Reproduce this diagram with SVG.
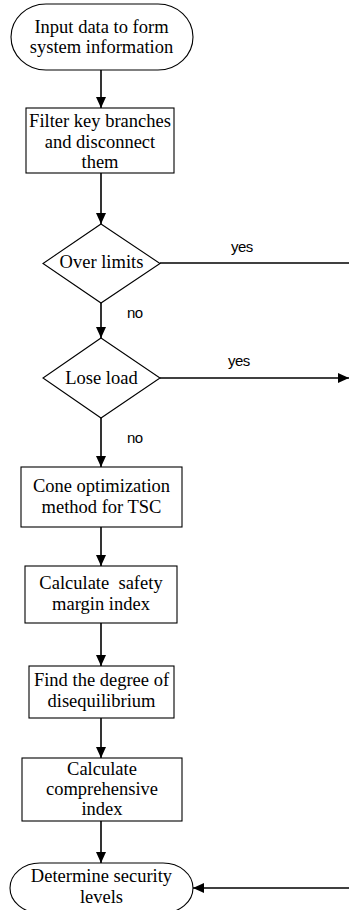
<svg xmlns="http://www.w3.org/2000/svg" width="349" height="910" viewBox="0 0 349 910">
<style>
.shape{fill:#fff;stroke:#000;stroke-width:1.1}
.t{font-family:"Liberation Serif","Times New Roman",serif;font-size:18.5px;text-anchor:middle;fill:#000}
.lbl{font-family:"Liberation Sans",Arial,sans-serif;font-size:15px;letter-spacing:-0.6px;fill:#000}
.c{fill:none;stroke:#000;stroke-width:1.6}
</style>
<defs>
<marker id="ah" markerUnits="userSpaceOnUse" markerWidth="11" markerHeight="10" refX="11" refY="5" orient="auto">
<path d="M0,0 L11,5 L0,10 z" fill="#000"/>
</marker>
</defs>
<rect width="349" height="910" fill="#fff"/>
<g id="connectors">
<line class="c" x1="101" y1="70" x2="101" y2="108" marker-end="url(#ah)"/>
<line class="c" x1="101" y1="173" x2="101" y2="224" marker-end="url(#ah)"/>
<line class="c" x1="101" y1="303" x2="101" y2="338" marker-end="url(#ah)"/>
<line class="c" x1="101" y1="418" x2="101" y2="467" marker-end="url(#ah)"/>
<line class="c" x1="101" y1="527" x2="101" y2="566" marker-end="url(#ah)"/>
<line class="c" x1="101" y1="623" x2="101" y2="666" marker-end="url(#ah)"/>
<line class="c" x1="101" y1="718" x2="101" y2="758" marker-end="url(#ah)"/>
<line class="c" x1="101" y1="821" x2="101" y2="863" marker-end="url(#ah)"/>
<line class="c" x1="160" y1="263" x2="349" y2="263"/>
<line class="c" x1="160" y1="378" x2="349" y2="378" marker-end="url(#ah)"/>
<line class="c" x1="349" y1="888" x2="193" y2="888" marker-end="url(#ah)"/>
<text class="lbl" x="231" y="252">yes</text>
<text class="lbl" x="228" y="366">yes</text>
<text class="lbl" x="127" y="318">no</text>
<text class="lbl" x="127" y="443">no</text>
</g>
<g id="start">
<path class="shape" d="M46,4 H158 A35,33 0 0 1 158,70 H46 A35,33 0 0 1 46,4 Z"/>
<text class="t" x="101.5" y="33">Input data to form</text>
<text class="t" x="101.5" y="53">system information</text>
</g>
<g id="filter">
<rect class="shape" x="26" y="108" width="148" height="65"/>
<text class="t" x="100" y="127">Filter key branches</text>
<text class="t" x="100" y="148">and disconnect</text>
<text class="t" x="100" y="168">them</text>
</g>
<g id="overlimits">
<polygon class="shape" points="101,224 160,263.5 101,303 43,263.5"/>
<text class="t" x="101.5" y="268">Over limits</text>
</g>
<g id="loseload">
<polygon class="shape" points="101,338 160,378 101,418 43,378"/>
<text class="t" x="101.5" y="384">Lose load</text>
</g>
<g id="cone">
<rect class="shape" x="21" y="467" width="161" height="60"/>
<text class="t" x="101.5" y="492">Cone optimization</text>
<text class="t" x="101.5" y="513">method for TSC</text>
</g>
<g id="safety">
<rect class="shape" x="25" y="566" width="152" height="57"/>
<text class="t" x="101" y="589" xml:space="preserve">Calculate  safety</text>
<text class="t" x="101" y="610">margin index</text>
</g>
<g id="degree">
<rect class="shape" x="29" y="666" width="145" height="52"/>
<text class="t" x="101.5" y="686">Find the degree of</text>
<text class="t" x="101.5" y="707">disequilibrium</text>
</g>
<g id="comprehensive">
<rect class="shape" x="22" y="758" width="160" height="63"/>
<text class="t" x="102" y="775">Calculate</text>
<text class="t" x="102" y="795">comprehensive</text>
<text class="t" x="102" y="815">index</text>
</g>
<g id="end">
<path class="shape" d="M40,863 H163 A30,25 0 0 1 163,913 H40 A30,25 0 0 1 40,863 Z"/>
<text class="t" x="101.5" y="882">Determine security</text>
<text class="t" x="101.5" y="903">levels</text>
</g>
</svg>
